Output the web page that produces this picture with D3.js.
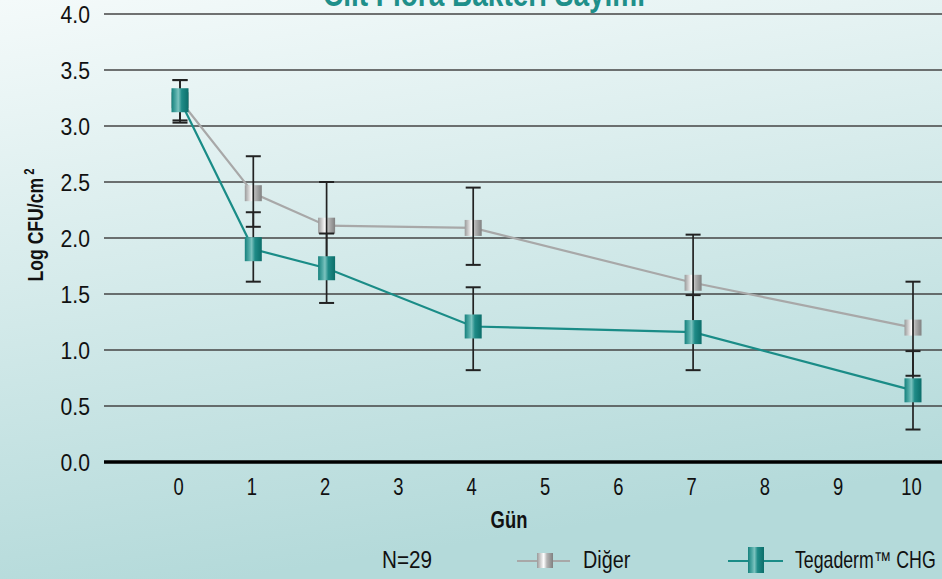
<!DOCTYPE html>
<html><head><meta charset="utf-8">
<script src="https://cdn.jsdelivr.net/npm/d3@7"></script>
<style>
html,body{margin:0;padding:0;overflow:hidden;}
svg{display:block;}
text{font-family:"Liberation Sans",Arial,sans-serif;}
</style></head>
<body>
<svg id="chart" width="942" height="579"></svg>
<script>
const title = "Cilt Flora Bakteri Sayımı";
const yTitle = "Log CFU/cm";
const xTitle = "Gün";
const days = [0, 1, 2, 4, 7, 10];
const xTicks = [0, 1, 2, 3, 4, 5, 6, 7, 8, 9, 10];
const yTicks = [0, 0.5, 1, 1.5, 2, 2.5, 3, 3.5, 4];
const tegaderm = [3.23, 1.90, 1.73, 1.21, 1.16, 0.64];
const tegLow   = [3.03, 1.61, 1.42, 0.82, 0.82, 0.29];
const tegHigh  = [3.41, 2.23, 2.04, 1.56, 1.49, 0.99];
const diger    = [3.23, 2.40, 2.11, 2.09, 1.60, 1.20];
const digLow   = [3.05, 2.10, 1.72, 1.76, 1.17, 0.77];
const digHigh  = [3.41, 2.73, 2.50, 2.45, 2.03, 1.61];
const legendN = "N=29";
const seriesNames = ["Diğer", "Tegaderm™ CHG"];

const svg = d3.select("#chart");
const W = 942, H = 579;
const SX = 0.8; // condensed look
const defs = svg.append("defs");

const bg = defs.append("linearGradient").attr("id","bg").attr("x1",0).attr("y1",0).attr("x2",0.25).attr("y2",1);
bg.append("stop").attr("offset","0%").attr("stop-color","#f4fafa");
bg.append("stop").attr("offset","100%").attr("stop-color","#b4dada");

const tg = defs.append("linearGradient").attr("id","teal").attr("x1",0).attr("y1",0).attr("x2",1).attr("y2",0);
[["0%","#16817d"],["25%","#4fa9a5"],["40%","#7cc3bf"],["60%","#1f8b87"],["100%","#0c6e6a"]].forEach(s=>tg.append("stop").attr("offset",s[0]).attr("stop-color",s[1]));
const gg = defs.append("linearGradient").attr("id","gray").attr("x1",0).attr("y1",0).attr("x2",1).attr("y2",0);
[["0%","#9a9a9a"],["25%","#d6d6d6"],["42%","#ffffff"],["62%","#b4b4b4"],["100%","#808080"]].forEach(s=>gg.append("stop").attr("offset",s[0]).attr("stop-color",s[1]));

svg.append("rect").attr("width",W).attr("height",H).attr("fill","url(#bg)");

const x = d3.scaleLinear().domain([0,10]).range([180, 913]);
const y = d3.scaleLinear().domain([0,4]).range([462, 14]);
const gridX0 = 104, gridX1 = 942;

function ctext(parent, px, py, str, opts){
  opts = opts || {};
  return parent.append("text")
    .attr("transform",`translate(${px},${py}) scale(${opts.sx||SX},1)`)
    .attr("text-anchor",opts.anchor||"start")
    .attr("font-size",opts.size||23)
    .attr("font-weight",opts.weight||"normal")
    .attr("fill",opts.fill||"#111")
    .text(str);
}

// title
ctext(svg, 484, 6, title, {anchor:"middle", size:35, weight:"bold", fill:"#1f8f8a"});

// gridlines
svg.append("g").selectAll("line").data(yTicks.filter(d=>d>0)).join("line")
  .attr("x1",gridX0).attr("x2",gridX1).attr("y1",d=>y(d)).attr("y2",d=>y(d))
  .attr("stroke","#444").attr("stroke-width",1.5);

// y axis labels
const yAxis = d3.axisLeft(y).tickValues(yTicks).tickFormat(d3.format(".1f")).tickSize(0).tickPadding(0);
const ya = svg.append("g").attr("transform",`translate(90,0)`).call(yAxis);
ya.select(".domain").remove();
ya.selectAll("text").attr("font-size",23.5).attr("fill","#111").attr("dy","0.36em")
  .attr("transform",`scale(0.9,1)`)
  .style("font-family",'"Liberation Sans",Arial,sans-serif');

// baseline
svg.append("line").attr("x1",gridX0).attr("x2",gridX1).attr("y1",y(0)).attr("y2",y(0))
  .attr("stroke","#000").attr("stroke-width",3.5);

// x axis labels
const xAxis = d3.axisBottom(x).tickValues(xTicks).tickFormat(d3.format("d")).tickSize(0).tickPadding(0);
const xa = svg.append("g").attr("transform",`translate(-2,479)`).call(xAxis);
xa.select(".domain").remove();
xa.selectAll("text").attr("font-size",23).attr("fill","#111").attr("dy","0.71em")
  .attr("transform",`scale(${SX},1)`)
  .style("font-family",'"Liberation Sans",Arial,sans-serif');

// axis titles
ctext(svg, 509, 528, xTitle, {anchor:"middle", weight:"bold"});
const yt = svg.append("text").attr("transform",`translate(43,225) rotate(-90) scale(${SX},1)`).attr("text-anchor","middle")
  .attr("font-size",22).attr("font-weight","bold").attr("fill","#111");
yt.append("tspan").text(yTitle);
yt.append("tspan").attr("dx",4).attr("dy",-9).attr("font-size",14).text("2");

const digData = days.map((d,i)=>({d, v:diger[i], lo:digLow[i], hi:digHigh[i]}));
const tegData = days.map((d,i)=>({d, v:tegaderm[i], lo:tegLow[i], hi:tegHigh[i]}));
const line = d3.line().x(p=>x(p.d)).y(p=>y(p.v));

svg.append("path").datum(digData).attr("d",line).attr("fill","none").attr("stroke","#a8a8a8").attr("stroke-width",2.2);
svg.append("path").datum(tegData).attr("d",line).attr("fill","none").attr("stroke","#1a8c87").attr("stroke-width",2.2);

// gray markers
svg.append("g").selectAll("rect").data(digData).join("rect")
  .attr("x",p=>x(p.d)-8.5).attr("y",p=>y(p.v)-8).attr("width",17).attr("height",16).attr("fill","url(#gray)");

// error bars
const eb = svg.append("g").attr("stroke","#222").attr("stroke-width",1.7);
[digData, tegData].forEach(ser=>{
  eb.append("g").selectAll("line").data(ser).join("line")
    .attr("x1",p=>x(p.d)).attr("x2",p=>x(p.d)).attr("y1",p=>y(p.hi)).attr("y2",p=>y(p.lo));
  eb.append("g").selectAll("line").data(ser.flatMap(p=>[{d:p.d,v:p.hi},{d:p.d,v:p.lo}])).join("line")
    .attr("x1",p=>x(p.d)-7.5).attr("x2",p=>x(p.d)+7.5).attr("y1",p=>y(p.v)).attr("y2",p=>y(p.v)).attr("stroke-width",2);
});

// teal markers
svg.append("g").selectAll("rect").data(tegData).join("rect")
  .attr("x",p=>x(p.d)-8.5).attr("y",p=>y(p.v)-12).attr("width",17).attr("height",24).attr("fill","url(#teal)");

// legend
ctext(svg, 382, 568, legendN, {sx:0.9});
const lg = svg.append("g");
lg.append("line").attr("x1",517).attr("x2",570).attr("y1",561).attr("y2",561).attr("stroke","#a8a8a8").attr("stroke-width",2.2);
lg.append("rect").attr("x",537).attr("y",553).attr("width",16).attr("height",15).attr("fill","url(#gray)");
ctext(lg, 583, 568, seriesNames[0], {sx:0.86});
lg.append("line").attr("x1",728).attr("x2",783).attr("y1",561).attr("y2",561).attr("stroke","#1a8c87").attr("stroke-width",2.2);
lg.append("rect").attr("x",748).attr("y",547).attr("width",16).attr("height",26).attr("fill","url(#teal)");
ctext(lg, 795, 568, seriesNames[1], {sx:0.77});
</script>
</body></html>
